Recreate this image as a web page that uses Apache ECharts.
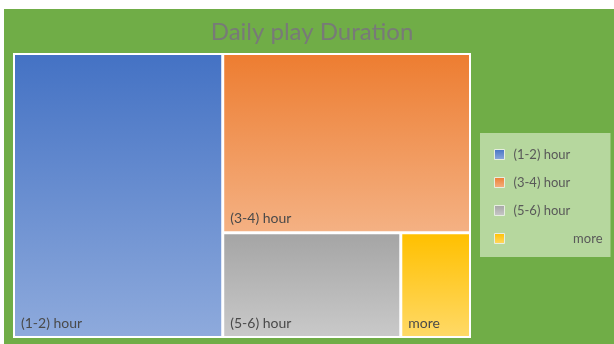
<!DOCTYPE html>
<html>
<head>
<meta charset="utf-8">
<script src="https://cdn.jsdelivr.net/npm/echarts@6/dist/echarts.min.js"></script>
<style>
  html, body { margin: 0; padding: 0; background: #fff; }
  #chart { position: absolute; left: 4px; top: 9px; width: 610px; height: 335px; }
</style>
</head>
<body>
<div id="chart"></div>
<script>
// data (share of players, %)
var categories = ['(1-2) hour', '(3-4) hour', '(5-6) hour', 'more']
var shares = [45.6, 34.1, 14.3, 5.6]
// top / bottom colour of each tile's gradient
var topColors = ['#4472c4', '#ed7d31', '#a5a5a5', '#ffc000']
var bottomColors = ['#8eaadc', '#f4b183', '#c9c9c9', '#ffd966']

function grad(i) {
  return new echarts.graphic.LinearGradient(0, 0, 0, 1, [
    { offset: 0, color: topColors[i] },
    { offset: 1, color: bottomColors[i] }
  ])
}

var nodes = categories.map(function (name, i) {
  return { name: name, value: shares[i], itemStyle: { color: grad(i) } }
})

var chart = echarts.init(document.getElementById('chart'))
chart.setOption({
  backgroundColor: '#70ad47',
  animation: false,
  title: {
    text: 'Daily play Duration',
    left: 303,
    textAlign: 'center',
    top: 6,
    textStyle: {
      color: '#787a78',
      fontFamily: 'Lato',
      fontWeight: 'normal',
      fontSize: 24
    }
  },
  legend: {
    orient: 'vertical',
    left: 476,
    top: 124,
    padding: [15, 8, 12, 14],
    backgroundColor: '#b6d79e',
    itemWidth: 10,
    itemHeight: 10,
    itemGap: 15,
    icon: 'rect',
    selectedMode: false,
    data: categories,
    itemStyle: { borderColor: '#e6eee0', borderWidth: 1 },
    formatter: function (name) {
      return name === 'more' ? '{r|' + name + '}' : '{a|' + name + '}'
    },
    textStyle: {
      color: '#595959',
      fontFamily: 'Lato',
      fontSize: 13,
      rich: {
        a: { width: 89, align: 'left', padding: [0, 0, 0, 4], color: '#595959', fontFamily: 'Lato', fontSize: 13 },
        r: { width: 89, align: 'right', padding: [0, 0, 0, 4], color: '#595959', fontFamily: 'Lato', fontSize: 13 }
      }
    }
  },
  series: [
    {
      type: 'treemap',
      left: 9,
      top: 44,
      width: 458,
      height: 285,
      squareRatio: 1,
      roam: false,
      nodeClick: false,
      breadcrumb: { show: false },
      itemStyle: { borderColor: '#fff', borderWidth: 1, gapWidth: 1 },
      label: {
        show: true,
        position: 'insideBottomLeft',
        distance: 8,
        offset: [-7, 7],
        color: '#4a4a4a',
        fontFamily: 'Lato',
        fontSize: 14
      },
      data: nodes
    },
    {
      // invisible helper so the legend gets its markers
      type: 'pie',
      radius: 0,
      center: [-50, -50],
      silent: true,
      label: { show: false },
      data: nodes
    }
  ]
})
</script>
</body>
</html>
